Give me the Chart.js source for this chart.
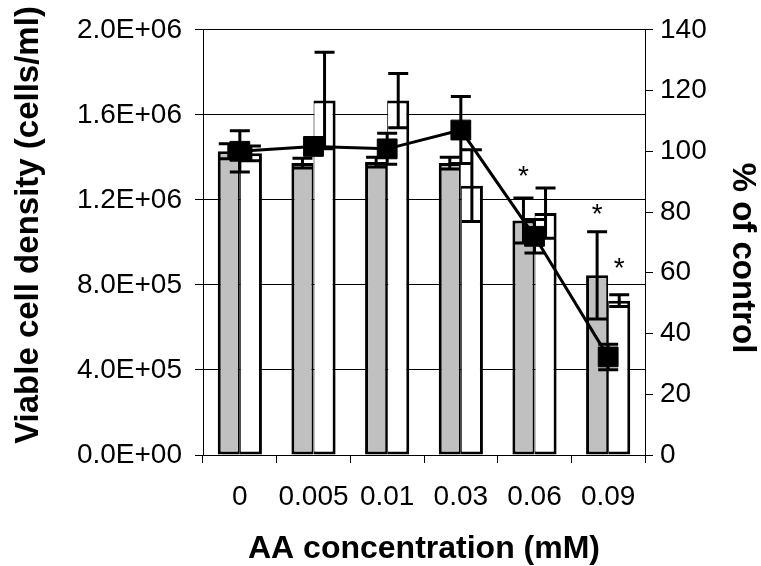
<!DOCTYPE html>
<html><head><meta charset="utf-8">
<script src="https://cdn.jsdelivr.net/npm/chart.js@4"></script>
<style>html,body{margin:0;padding:0;background:#fff}#wrap{width:761px;height:566px}</style>
</head><body><div id="wrap"><canvas id="c" width="761" height="566"></canvas></div>
<script>
// ---- data ----
const categories = ['0', '0.005', '0.01', '0.03', '0.06', '0.09'];
const densityGray = [1.429e6, 1.373e6, 1.378e6, 1.373e6, 1.103e6, 0.845e6];
const densityGrayErr = [35000, 23000, 23000, 28000, 106000, 205000];
const densityWhite = [1.419e6, 1.667e6, 1.667e6, 1.267e6, 1.138e6, 0.726e6];
const densityWhiteErr = [35000, 227000, 128000, 169000, 118000, 28000];
const percentControl = [100, 101.6, 100.8, 107.0, 72.0, 32.3];
const percentControlErr = [6.8, 2.5, 5.1, 11, 5.5, 4.2];
// significance asterisks: label level (cells/ml) or null
const sigGray = [null, null, null, null, 1.346e6, 1.167e6];
const sigWhite = [null, null, null, null, null, 0.914e6];
const leftTicks = {min: 0, max: 2.0e6, step: 4.0e5};
const rightTicks = {min: 0, max: 140, step: 20};
const titleLeft = 'Viable cell density (cells/ml)';
const titleRight = '% of control';
const titleX = 'AA concentration (mM)';

const FONT = '"Liberation Sans", Arial, Helvetica, sans-serif';

function sci(v) {
  if (Math.abs(v) < 1e-9) return '0.0E+00';
  const e = Math.floor(Math.log10(v) + 1e-9);
  const m = v / Math.pow(10, e);
  return m.toFixed(1) + 'E+' + String(e).padStart(2, '0');
}

const errorBarPlugin = {
  id: 'errorBars',
  afterDatasetsDraw(chart) {
    const ctx = chart.ctx;
    ctx.save();
    ctx.strokeStyle = '#000';
    ctx.lineWidth = 3;
    ctx.lineCap = 'butt';
    const drawSet = (dsIndex, errs, scaleId) => {
      const meta = chart.getDatasetMeta(dsIndex);
      const scale = chart.scales[scaleId];
      const vals = chart.data.datasets[dsIndex].data;
      meta.data.forEach((el, i) => {
        const e = errs[i];
        if (!e) return;
        const x = el.x;
        const yT = scale.getPixelForValue(vals[i] + e);
        const yB = scale.getPixelForValue(vals[i] - e);
        const hw = 10;
        ctx.beginPath();
        ctx.moveTo(x, yT); ctx.lineTo(x, yB);
        ctx.moveTo(x - hw, yT); ctx.lineTo(x + hw, yT);
        ctx.moveTo(x - hw, yB); ctx.lineTo(x + hw, yB);
        ctx.stroke();
      });
    };
    drawSet(1, densityGrayErr, 'y');
    drawSet(2, densityWhiteErr, 'y');
    drawSet(0, percentControlErr, 'y1');
    // asterisks
    ctx.fillStyle = '#000';
    ctx.font = '28px ' + FONT;
    ctx.textAlign = 'center';
    ctx.textBaseline = 'alphabetic';
    const ys = chart.scales.y;
    const star = (dsIndex, levels) => {
      const meta = chart.getDatasetMeta(dsIndex);
      meta.data.forEach((el, i) => {
        if (levels[i] == null) return;
        ctx.fillText('*', el.x, ys.getPixelForValue(levels[i]) + 16);
      });
    };
    star(1, sigGray);
    star(2, sigWhite);
    ctx.restore();
  },
  afterDraw(chart) {
    const ctx = chart.ctx;
    ctx.save();
    ctx.fillStyle = '#000';
    ctx.textAlign = 'center';
    ctx.textBaseline = 'alphabetic';
    const ca = chart.chartArea;
    ctx.font = 'bold 32px ' + FONT;
    ctx.fillText(titleX, (ca.left + ca.right) / 2, 558);
    ctx.font = 'bold 33px ' + FONT;
    ctx.save();
    ctx.translate(38, 225);
    ctx.rotate(-Math.PI / 2);
    ctx.fillText(titleLeft, 0, 0);
    ctx.restore();
    ctx.save();
    ctx.translate(733, 258);
    ctx.rotate(Math.PI / 2);
    ctx.fillText(titleRight, 0, 0);
    ctx.restore();
    ctx.restore();
  }
};

const tickFont = {family: FONT, size: 28};

new Chart(document.getElementById('c'), {
  data: {
    labels: categories,
    datasets: [
      {
        type: 'line', label: '% of control', data: percentControl, yAxisID: 'y1', order: 0,
        borderColor: '#000', borderWidth: 3, tension: 0, fill: false,
        pointStyle: 'rect', pointRadius: 14, pointBackgroundColor: '#000',
        pointBorderColor: '#000', pointBorderWidth: 1
      },
      {
        type: 'bar', label: 'gray', data: densityGray, yAxisID: 'y', order: 1,
        backgroundColor: '#C0C0C0', borderColor: '#000',
        borderWidth: {top: 3, left: 3, bottom: 3, right: 2}, borderSkipped: false,
        categoryPercentage: 0.6, barPercentage: 1.0
      },
      {
        type: 'bar', label: 'white', data: densityWhite, yAxisID: 'y', order: 1,
        backgroundColor: '#FFFFFF', borderColor: '#000',
        borderWidth: {top: 3, left: 1, bottom: 3, right: 3}, borderSkipped: false,
        categoryPercentage: 0.6, barPercentage: 1.0
      }
    ]
  },
  options: {
    responsive: false, animation: false, devicePixelRatio: 1,
    layout: {padding: {top: 21, left: 0, right: 0, bottom: 0}},
    plugins: {legend: {display: false}, tooltip: {enabled: false}},
    scales: {
      x: {
        type: 'category', offset: true,
        grid: {offset: true, drawOnChartArea: false, drawTicks: true, tickLength: 8, color: '#000', lineWidth: 1},
        border: {display: true, color: '#000', width: 1},
        ticks: {font: tickFont, color: '#000', padding: 17, maxRotation: 0, autoSkip: false},
        afterFit(s) { s.height = 111; }
      },
      y: {
        position: 'left', min: leftTicks.min, max: leftTicks.max,
        ticks: {stepSize: leftTicks.step, callback: v => sci(v), font: tickFont, color: '#000', padding: 13},
        grid: {color: '#000', lineWidth: 1, drawTicks: true, tickLength: 8},
        border: {display: true, color: '#000', width: 1},
        afterFit(s) { s.width = 203; }
      },
      y1: {
        position: 'right', min: rightTicks.min, max: rightTicks.max,
        ticks: {stepSize: rightTicks.step, font: tickFont, color: '#000', padding: 7},
        grid: {drawOnChartArea: false, color: '#000', lineWidth: 1, drawTicks: true, tickLength: 8},
        border: {display: true, color: '#000', width: 1},
        afterFit(s) { s.width = 116; }
      }
    }
  },
  plugins: [errorBarPlugin]
});
</script>
</body></html>
